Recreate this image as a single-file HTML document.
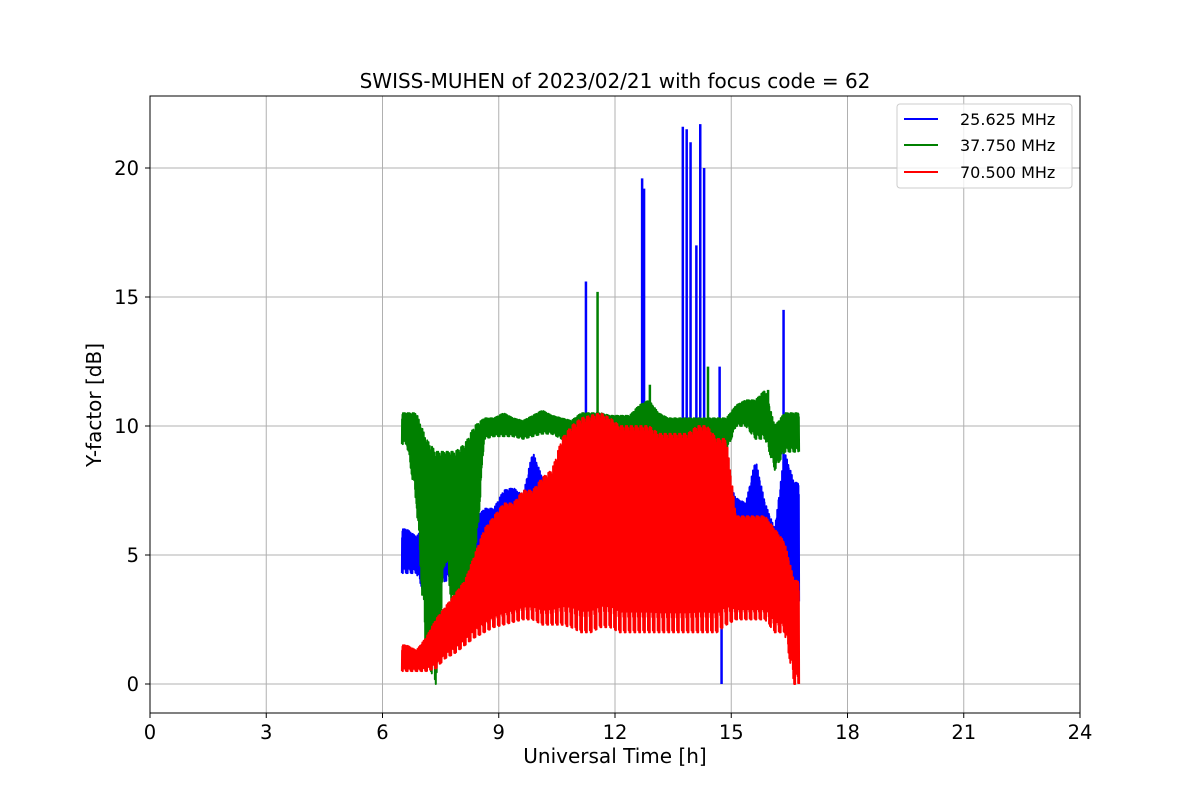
<!DOCTYPE html>
<html><head><meta charset="utf-8"><style>
body{margin:0;background:#fff;font-family:"Liberation Sans","DejaVu Sans",sans-serif}
svg text{font-family:"DejaVu Sans","Liberation Sans",sans-serif}
</style></head><body>
<svg id="chart" width="1200" height="800" xmlns="http://www.w3.org/2000/svg">
<rect width="1200" height="800" fill="#fff"/>
<g id="grid"></g>
<g id="series"></g>
<rect x="150" y="96" width="930" height="617" fill="none" stroke="#000" stroke-width="1"/>
<g id="axes"></g>
<text x="615" y="88" text-anchor="middle" font-size="20">SWISS-MUHEN of 2023/02/21 with focus code = 62</text>
<text x="615" y="763" text-anchor="middle" font-size="20">Universal Time [h]</text>
<text transform="translate(101,405) rotate(-90)" text-anchor="middle" font-size="20">Y-factor [dB]</text>
<g>
<rect x="897" y="104" width="175" height="84" rx="3" fill="#fff" fill-opacity="0.8" stroke="#ccc"/>
<g><line x1="904" y1="119" x2="938" y2="119" stroke="#0000ff" stroke-width="2"/><text x="960" y="125" font-size="16">25.625 MHz</text></g>
<g><line x1="904" y1="145" x2="938" y2="145" stroke="#008000" stroke-width="2"/><text x="960" y="151" font-size="16">37.750 MHz</text></g>
<g><line x1="904" y1="172" x2="938" y2="172" stroke="#ff0000" stroke-width="2"/><text x="960" y="178" font-size="16">70.500 MHz</text></g>
</g>
</svg>
<script>
const xTicks=[0,3,6,9,12,15,18,21,24];
const yTicks=[0,5,10,15,20];
const binStart=6.5;
const binWidth=0.25;
const blueMin=[4.3,4.3,3.3,3.5,4,4,4,4.2,4.5,4.5,4.5,5,5,5,5,5,5,5,3,3,3,3,3,3,3,3,3,3,3,3,3,3,3,3,4.5,5,4,4,4,4,3.2];
const blueMax=[6,5.7,6.2,6.5,6.5,6.2,6,6.3,6.8,6.8,7.5,7.6,7.3,9,8,8,8,8,8,8,8,8,8,8,8,8,8,8,8,8,8,8,8,8,7.2,7,8.7,7,6,9,7.8];
const greenMin=[9.3,7,1,0,5,2,3,4,9.5,9.6,9.6,9.6,9.5,9.6,9.7,9.7,9.5,9.4,9.2,9,9,9,9,9,9.5,9.5,9.2,9,9,9,9,9,9,9,10,10,9.5,9.5,8.3,9,9];
const greenMax=[10.5,10.5,9.5,9,9,9,9.3,10,10.3,10.3,10.5,10.3,10.2,10.4,10.6,10.4,10.3,10.2,10.5,10.5,10.5,10.4,10.4,10.4,10.8,11,10.5,10.3,10.3,10.3,10.3,10.3,10.3,10.3,10.8,11,11,11.4,10,10.5,10.5];
const redMin=[0.5,0.5,0.5,0.6,1,1.2,1.5,1.8,2,2.2,2.3,2.4,2.5,2.5,2.3,2.3,2.3,2.2,2,2,2.2,2.2,2,2,2,2,2,2,2,2,2,2,2,2.3,2.5,2.5,2.5,2.5,2,2,0];
const redMax=[1.5,1.3,1.8,2.5,3,3.5,4,5,6,6.5,7,7,7.5,7.5,8,8.3,9.5,10,10.3,10.4,10.5,10.3,10,10,10,10,9.7,9.7,9.7,9.7,10,10,9.5,9.5,6.5,6.5,6.5,6.5,6,5.5,4];
const blueSpikeT=[11.25,12.7,12.75,13.75,13.85,13.95,14.1,14.2,14.3,14.7,14.75,16.35,16.7];
const blueSpikeV=[15.6,19.6,19.2,21.6,21.5,21,17,21.7,20,12.3,0,14.5,7.8];
const greenSpikeT=[11.55,12.9,14.4,15.95];
const greenSpikeV=[15.2,11.6,12.3,11.4];
const redSpikeT=[];
const redSpikeV=[];

const NS="http://www.w3.org/2000/svg";
const X=t=>150+t*(930/24);
const Y=v=>684-v*25.8;
function mk(tag,attrs,parent){const e=document.createElementNS(NS,tag);for(const k in attrs)e.setAttribute(k,attrs[k]);parent.appendChild(e);return e;}
const grid=document.getElementById('grid'),axes=document.getElementById('axes'),ser=document.getElementById('series');
xTicks.forEach(t=>{
 const g=mk('line',{x1:X(t),x2:X(t),y1:96,y2:713,stroke:'#b0b0b0','stroke-width':1},grid);
 
 
 mk('line',{x1:X(t),x2:X(t),y1:713,y2:718,stroke:'#000'},axes);
 const tx=mk('text',{x:X(t),y:739,'text-anchor':'middle','font-size':19.5},axes);tx.textContent=t;
 
 
});
yTicks.forEach(v=>{
 const g=mk('line',{x1:150,x2:1080,y1:Y(v),y2:Y(v),stroke:'#b0b0b0','stroke-width':1},grid);
 
 
 mk('line',{x1:145,x2:150,y1:Y(v),y2:Y(v),stroke:'#000'},axes);
 const tx=mk('text',{x:139,y:Y(v)+7,'text-anchor':'end','font-size':19.5},axes);tx.textContent=v;
 
 
});
function env(arr,f){
 const p=f/binWidth-0.5;const i=Math.floor(p),fr=p-i;
 const a=arr[Math.max(0,Math.min(arr.length-1,i))],b=arr[Math.max(0,Math.min(arr.length-1,i+1))];
 return a+(b-a)*fr;
}
const reach=[1,0.75,0.95,0.6,1,0.85,0.7,0.98,0.8,0.9,0.65];
function drawSeries(mins,maxs,st,sv,color,name){
 const pts=[];const total=mins.length*binWidth;const steps=mins.length*44;
 for(let k=0;k<=steps;k++){
  const f=total*k/steps;
  const lo=env(mins,f),hi=env(maxs,f),mid=(lo+hi)/2,r=reach[k%reach.length];
  const v=(k%2===0)?mid-(mid-lo)*r:mid+(hi-mid)*reach[(k*3)%reach.length];
  pts.push(X(binStart+f).toFixed(1)+','+Y(v).toFixed(1));
 }
 const p=mk('polyline',{points:pts.join(' '),fill:'none',stroke:color,'stroke-width':2,'stroke-linejoin':'round'},ser);
 
 
 st.forEach((t,j)=>{
  const i=Math.min(mins.length-1,Math.max(0,Math.floor((t-binStart)/binWidth)));
  const base=sv[j]<mins[i]?mins[i]:(mins[i]+maxs[i])/2;
  const s=mk('line',{x1:X(t),x2:X(t),y1:Y(base),y2:Y(sv[j]),stroke:color,'stroke-width':2.5},ser);
  
  
 });
}
drawSeries(blueMin,blueMax,blueSpikeT,blueSpikeV,'#0000ff','series-25625-mhz');
drawSeries(greenMin,greenMax,greenSpikeT,greenSpikeV,'#008000','series-37750-mhz');
drawSeries(redMin,redMax,redSpikeT,redSpikeV,'#ff0000','series-70500-mhz');
</script>
</body></html>
